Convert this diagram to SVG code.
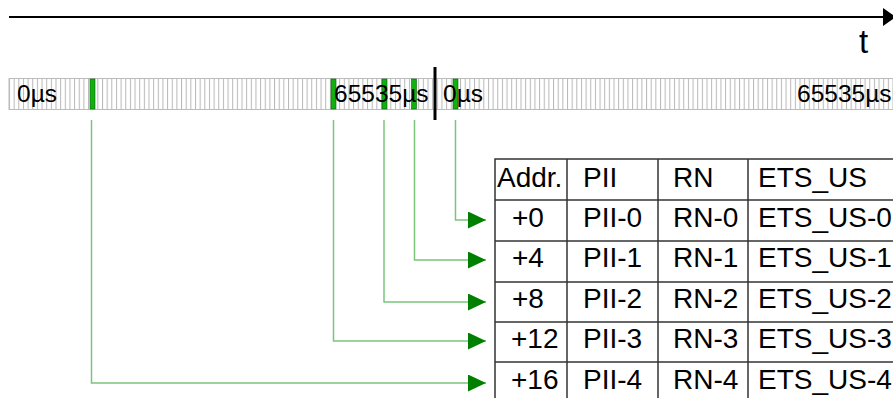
<svg xmlns="http://www.w3.org/2000/svg" width="893" height="398" viewBox="0 0 893 398">
<style>
.t{font-family:"Liberation Sans",Arial,sans-serif;fill:#000}
.bar{font-size:24.5px}
.cell{font-size:28px}
.grid{stroke:#333;stroke-width:1.5;fill:none}
.conn{stroke:#7cc47c;stroke-width:1.5;fill:none}
.mk{fill:#10b010;stroke:#0a600a;stroke-width:0.6}
</style>
<defs>
<pattern id="ticks" x="9" y="0" width="4.65" height="40" patternUnits="userSpaceOnUse">
<rect x="0" y="0" width="4.65" height="40" fill="#fff"/>
<line x1="0.5" y1="0" x2="0.5" y2="40" stroke="#b8b8b8" stroke-width="1"/>
</pattern>
<marker id="ah" markerWidth="18" markerHeight="17" refX="18" refY="8.5" orient="auto" markerUnits="userSpaceOnUse">
<polygon points="0,0 18,8.5 0,17" fill="#008000"/>
</marker>
</defs>
<g id="axis">
<line x1="9" y1="17" x2="884" y2="17" stroke="#000" stroke-width="2"/>
<polygon points="883,8 896,17 883,26" fill="#000"/>
<text class="t" x="859" y="53" font-size="33">t</text>
</g>
<g id="timebar">
<rect x="9" y="78.5" width="890" height="31" fill="url(#ticks)" stroke="#bbb" stroke-width="1"/>
<rect class="mk" x="90" y="79" width="5" height="30"/>
<rect class="mk" x="331" y="79" width="5" height="30"/>
<rect class="mk" x="382" y="79" width="5" height="30"/>
<rect class="mk" x="411.5" y="79" width="5" height="30"/>
<rect class="mk" x="453" y="79" width="5" height="30"/>
<text class="t bar" x="17" y="102">0µs</text>
<text class="t bar" x="334" y="102">65535µs</text>
<text class="t bar" x="443" y="102">0µs</text>
<text class="t bar" x="797" y="102">65535µs</text>
<line x1="435" y1="67" x2="435" y2="120" stroke="#000" stroke-width="3"/>
</g>
<g id="connectors">
<polyline class="conn" points="455.5,120 455.5,220 486,220" marker-end="url(#ah)"/>
<polyline class="conn" points="414.5,120 414.5,260 486,260" marker-end="url(#ah)"/>
<polyline class="conn" points="384,120 384,302 486,302" marker-end="url(#ah)"/>
<polyline class="conn" points="333.5,120 333.5,341 486,341" marker-end="url(#ah)"/>
<polyline class="conn" points="91.5,120 91.5,383 486,383" marker-end="url(#ah)"/>
</g>
<g id="table">
<rect class="grid" x="495" y="159" width="410" height="250"/>
<line class="grid" x1="567" y1="159" x2="567" y2="400"/>
<line class="grid" x1="658" y1="159" x2="658" y2="400"/>
<line class="grid" x1="748" y1="159" x2="748" y2="400"/>
<line class="grid" x1="495" y1="200" x2="900" y2="200"/>
<line class="grid" x1="495" y1="241" x2="900" y2="241"/>
<line class="grid" x1="495" y1="282" x2="900" y2="282"/>
<line class="grid" x1="495" y1="322" x2="900" y2="322"/>
<line class="grid" x1="495" y1="362" x2="900" y2="362"/>
<g class="t cell">
<text x="497" y="187">Addr.</text><text x="583" y="187">PII</text><text x="673" y="187">RN</text><text x="758" y="187">ETS_US</text>
<text x="512" y="227">+0</text><text x="583" y="227">PII-0</text><text x="673" y="227">RN-0</text><text x="758" y="227">ETS_US-0</text>
<text x="512" y="267">+4</text><text x="583" y="267">PII-1</text><text x="673" y="267">RN-1</text><text x="758" y="267">ETS_US-1</text>
<text x="512" y="308">+8</text><text x="583" y="308">PII-2</text><text x="673" y="308">RN-2</text><text x="758" y="308">ETS_US-2</text>
<text x="511" y="348">+12</text><text x="583" y="348">PII-3</text><text x="673" y="348">RN-3</text><text x="758" y="348">ETS_US-3</text>
<text x="511" y="389">+16</text><text x="583" y="389">PII-4</text><text x="673" y="389">RN-4</text><text x="758" y="389">ETS_US-4</text>
</g>
</g>
</svg>
